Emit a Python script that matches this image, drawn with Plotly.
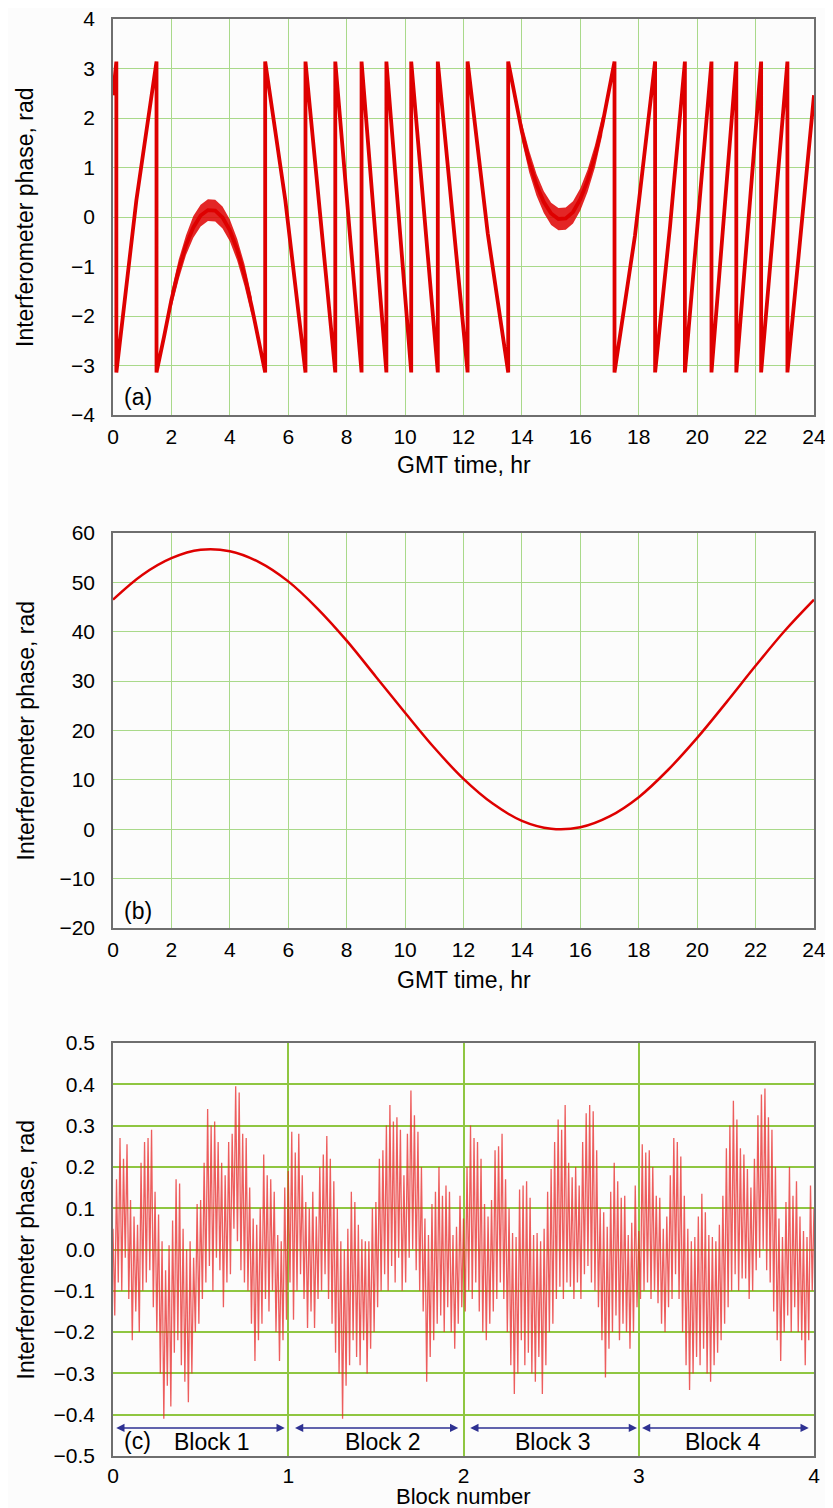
import numpy as np
import plotly.graph_objects as go

# ---------------- data ----------------
# Panel (a): wrapped interferometer phase, vertices
a_time = [0, 0.115, 0.115, 0.80, 1.49, 1.49, 1.75, 2.0, 2.25, 2.5, 2.75, 3.0, 3.25, 3.5, 3.75,
          4.0, 4.25, 4.5, 4.75, 5.0, 5.21, 5.21, 5.9, 6.59, 6.59, 7.61, 7.61, 8.51, 8.51, 9.36,
          9.36, 10.21, 10.21, 11.12, 11.12, 12.14, 12.14, 12.83, 13.53, 13.53, 13.75, 14.0, 14.25,
          14.5, 14.75, 15.0, 15.25, 15.5, 15.75, 16.0, 16.25, 16.5, 16.75, 17.0, 17.17, 17.17,
          17.87, 18.56, 18.56, 19.07, 19.58, 19.58, 20.49, 20.49, 21.34, 21.34, 22.19, 22.19,
          23.09, 23.09, 24.0]
a_phase = [2.46, 3.14, -3.14, 0.34, 3.14, -3.14, -2.41, -1.67, -1.06, -0.57, -0.21, 0.03, 0.14,
           0.13, -0.01, -0.27, -0.66, -1.17, -1.81, -2.57, -3.14, 3.14, 0.34, -3.14, 3.14, -3.14,
           3.14, -3.14, 3.14, -3.14, 3.14, -3.14, 3.14, -3.14, 3.14, -3.14, 3.14, -0.33, -3.14,
           3.14, 2.43, 1.72, 1.12, 0.65, 0.30, 0.07, -0.04, -0.03, 0.10, 0.36, 0.74, 1.23, 1.85,
           2.59, 3.14, -3.14, -0.38, 3.14, -3.14, -0.20, 3.14, -3.14, 3.14, -3.14, 3.14, -3.14,
           3.14, -3.14, 3.14, -3.14, 2.46]
# noise band edges near the two turning points of panel (a)
band1_time = [2.0, 2.25, 2.5, 2.75, 3.0, 3.25, 3.5, 3.75, 4.0, 4.25, 4.5, 4.75]
band1_top = [-1.50, -0.86, -0.37, 0.02, 0.25, 0.36, 0.35, 0.21, -0.05, -0.44, -0.95, -1.62]
band1_bot = [-1.84, -1.26, -0.77, -0.42, -0.19, -0.08, -0.09, -0.23, -0.49, -0.88, -1.39, -2.00]
band2_time = [14.0, 14.25, 14.5, 14.75, 15.0, 15.25, 15.5, 15.75, 16.0, 16.25, 16.5, 16.75]
band2_top = [1.90, 1.34, 0.87, 0.52, 0.29, 0.18, 0.19, 0.32, 0.58, 0.96, 1.45, 2.05]
band2_bot = [1.54, 0.90, 0.43, 0.08, -0.16, -0.27, -0.26, -0.13, 0.13, 0.51, 1.00, 1.65]

# Panel (b): unwrapped phase, hourly readings
b_time = list(range(0, 25))
b_phase = [46.5, 51.5, 54.9, 56.6, 56.3, 54.1, 50.2, 44.7, 38.2, 30.9, 23.6, 16.5, 10.2, 5.2,
           1.7, 0.1, 0.4, 2.6, 6.5, 12.0, 18.5, 25.7, 33.1, 40.2, 46.5]

# Panel (c): residual phase samples, 100 per block
block1 = [0.05, -0.16, 0.17, -0.08, 0.27, -0.10, 0.22, -0.02, 0.255, -0.12,
          0.12, -0.22, 0.08, -0.15, 0.06, -0.20, 0.21, -0.10, 0.26, -0.08,
          0.27, -0.05, 0.29, -0.14, 0.14, -0.20, 0.085, -0.30, 0.02, -0.41,
          -0.05, -0.33, 0.01, -0.38, 0.07, -0.25, 0.17, -0.22, 0.16, -0.28,
          0.05, -0.32, 0.00, -0.37, 0.02, -0.30, -0.02, -0.20, 0.11, -0.18,
          0.12, -0.12, 0.21, -0.08, 0.34, -0.04, 0.30, -0.10, 0.31, -0.02,
          0.26, -0.05, 0.21, -0.14, 0.18, -0.08, 0.26, -0.06, 0.28, 0.05,
          0.395, 0.02, 0.38, -0.05, 0.28, -0.08, 0.27, -0.10, 0.15, -0.18,
          0.075, -0.27, 0.06, -0.22, 0.10, -0.18, 0.23, -0.12, 0.18, -0.15,
          0.17, -0.10, 0.14, -0.20, 0.035, -0.27, 0.02, -0.22, 0.15, -0.17]
block2 = [0.19, -0.08, 0.285, -0.17, 0.235, -0.10, 0.28, -0.06, 0.18, -0.12,
          0.115, -0.19, 0.10, -0.15, 0.14, -0.19, 0.08, -0.12, 0.20, -0.10,
          0.23, -0.06, 0.275, -0.12, 0.22, -0.18, 0.165, -0.25, 0.10, -0.30,
          0.02, -0.41, 0.00, -0.33, 0.05, -0.28, 0.14, -0.22, 0.115, -0.26,
          0.06, -0.28, 0.025, -0.22, 0.02, -0.30, 0.02, -0.24, 0.10, -0.20,
          0.115, -0.14, 0.22, -0.10, 0.24, -0.06, 0.30, -0.10, 0.35, -0.04,
          0.31, -0.08, 0.32, -0.02, 0.29, -0.10, 0.18, -0.08, 0.28, -0.02,
          0.385, 0.00, 0.325, -0.05, 0.285, -0.10, 0.20, -0.15, 0.075, -0.32,
          0.035, -0.26, 0.11, -0.22, 0.14, -0.18, 0.20, -0.16, 0.13, -0.20,
          0.155, -0.14, 0.14, -0.20, 0.035, -0.24, 0.055, -0.18, 0.13, -0.14]
block3 = [0.075, -0.15, 0.20, -0.10, 0.30, -0.12, 0.27, -0.08, 0.26, -0.15,
          0.22, -0.20, 0.11, -0.22, 0.08, -0.18, 0.12, -0.15, 0.24, -0.12,
          0.25, -0.08, 0.28, -0.12, 0.17, -0.20, 0.10, -0.28, 0.04, -0.35,
          0.03, -0.30, 0.145, -0.22, 0.155, -0.28, 0.165, -0.25, 0.125, -0.30,
          0.035, -0.32, 0.04, -0.26, 0.02, -0.35, 0.05, -0.28, 0.14, -0.20,
          0.195, -0.18, 0.26, -0.12, 0.315, -0.09, 0.29, -0.12, 0.35, -0.08,
          0.21, -0.09, 0.175, -0.12, 0.20, -0.08, 0.155, -0.12, 0.26, -0.06,
          0.33, -0.04, 0.35, -0.08, 0.335, -0.10, 0.24, -0.14, 0.10, -0.22,
          0.09, -0.31, 0.055, -0.24, 0.14, -0.20, 0.21, -0.16, 0.165, -0.22,
          0.125, -0.18, 0.13, -0.20, 0.035, -0.24, 0.065, -0.20, 0.155, -0.14]
block4 = [0.045, -0.12, 0.255, -0.10, 0.235, -0.08, 0.24, -0.12, 0.20, -0.10,
          0.13, -0.13, 0.125, -0.18, 0.05, -0.20, 0.08, -0.14, 0.18, -0.12,
          0.27, -0.06, 0.26, -0.12, 0.225, -0.20, 0.13, -0.28, 0.05, -0.34,
          0.02, -0.30, 0.03, -0.26, 0.08, -0.28, 0.135, -0.24, 0.09, -0.30,
          0.035, -0.32, 0.03, -0.28, 0.02, -0.25, 0.06, -0.22, 0.13, -0.18,
          0.245, -0.14, 0.30, -0.10, 0.36, -0.06, 0.315, -0.10, 0.245, -0.07,
          0.23, -0.07, 0.195, -0.12, 0.15, -0.10, 0.22, -0.05, 0.325, -0.02,
          0.375, 0.00, 0.39, -0.05, 0.32, -0.08, 0.29, -0.15, 0.20, -0.22,
          0.075, -0.27, 0.03, -0.20, 0.115, -0.16, 0.20, -0.20, 0.13, -0.14,
          0.165, -0.20, 0.08, -0.22, 0.045, -0.28, 0.03, -0.22, 0.155, -0.10]
c_last = [0.10]
c_phase = block1 + block2 + block3 + block4 + c_last
c_block = np.linspace(0, 4, len(c_phase))

block_labels = ["Block 1", "Block 2", "Block 3", "Block 4"]
block_label_x = [0.56, 1.54, 2.51, 3.48]
block_arrow_start = [0.01, 1.03, 2.03, 3.01]
block_arrow_end = [0.98, 1.97, 2.99, 3.97]

# ---------------- figure ----------------
FONT = "Liberation Sans, Arial, sans-serif"
RED = "rgb(222,0,0)"
GRID = "#a9d98a"
GRIDC = "#8fc641"
FRAME = "#6e6e6e"

OFF = 8            # page body margin of the html page
W, H = 833 - OFF, 1508 - OFF

fig = go.Figure()

# panel (a)
for bt, top, bot in [(band1_time, band1_top, band1_bot), (band2_time, band2_top, band2_bot)]:
    fig.add_trace(go.Scatter(x=bt, y=top, mode="lines", line=dict(width=0, color=RED),
                             xaxis="x", yaxis="y", showlegend=False, hoverinfo="skip"))
    fig.add_trace(go.Scatter(x=bt, y=bot, mode="lines", line=dict(width=0, color=RED),
                             fill="tonexty", fillcolor="rgba(222,0,0,0.85)",
                             xaxis="x", yaxis="y", showlegend=False, hoverinfo="skip"))
fig.add_trace(go.Scatter(x=a_time, y=a_phase, mode="lines", line=dict(width=3.8, color=RED),
                         xaxis="x", yaxis="y", showlegend=False))

# panel (b)
fig.add_trace(go.Scatter(x=b_time, y=b_phase, mode="lines",
                         line=dict(width=2.5, color=RED, shape="spline"),
                         xaxis="x2", yaxis="y2", showlegend=False))

# panel (c)
fig.add_trace(go.Scatter(x=c_block, y=c_phase, mode="lines",
                         line=dict(width=1.3, color="rgba(232,40,40,0.75)"),
                         xaxis="x3", yaxis="y3", showlegend=False))

# plot-area edges in page pixels
P_LEFT, P_RIGHT = 113, 814
P_TOP, P_BOT = 19, 1456
H_TOP = P_TOP - OFF
H_BOT = P_BOT - OFF
PH = H_BOT - H_TOP
PW = P_RIGHT - P_LEFT


def ydom(top_px, bot_px):
    return [(P_BOT - bot_px) / PH, (P_BOT - top_px) / PH]


def ypaper(px):
    return (P_BOT - px) / PH


def xpaper(px):
    return (px - P_LEFT) / PW


tickfont = dict(family=FONT, size=21, color="black")
common_x = dict(showline=True, mirror=True, linecolor=FRAME, linewidth=1.5, ticks="",
                tickfont=tickfont, zeroline=False, automargin=False,
                ticklabeloverflow="allow")
common_y = dict(showline=True, mirror=True, linecolor=FRAME, linewidth=1.5, ticks="",
                tickfont=tickfont, ticklabelstandoff=12, zeroline=False, automargin=False,
                ticklabeloverflow="allow")

fig.update_layout(
    width=W, height=H,
    margin=dict(l=P_LEFT - OFF, r=W - (P_RIGHT - OFF), t=H_TOP, b=H - H_BOT),
    paper_bgcolor="#fcfcfc", plot_bgcolor="#fcfcfc",
    font=dict(family=FONT, color="black"),
    xaxis=dict(domain=[0, 1], range=[0, 24], dtick=2, tick0=0, anchor="y",
               ticklabelstandoff=2,
               showgrid=True, gridcolor=GRID, gridwidth=1.4, **common_x),
    yaxis=dict(domain=ydom(19, 415), range=[-4, 4], dtick=1, anchor="x",
               showgrid=True, gridcolor=GRID, gridwidth=1.4, **common_y),
    xaxis2=dict(domain=[0, 1], range=[0, 24], dtick=2, tick0=0, anchor="y2",
                ticklabelstandoff=2,
                showgrid=True, gridcolor=GRID, gridwidth=1.4, **common_x),
    yaxis2=dict(domain=ydom(533, 928), range=[-20, 60], dtick=10, anchor="x2",
                showgrid=True, gridcolor=GRID, gridwidth=1.4, **common_y),
    xaxis3=dict(domain=[0, 1], range=[0, 4], dtick=1, tick0=0, anchor="y3",
                ticklabelstandoff=0,
                showgrid=True, gridcolor=GRIDC, gridwidth=2, **common_x),
    yaxis3=dict(domain=ydom(1043, 1456), range=[-0.5, 0.5], dtick=0.1, tickformat=".1f",
                anchor="x3", showgrid=True, gridcolor=GRIDC, gridwidth=1.5, **common_y),
)

ann = []
title_font = dict(family=FONT, size=23, color="black")
# y axis titles
for top, bot in [(19, 415), (533, 928), (1043, 1456)]:
    ann.append(dict(text="Interferometer phase, rad", xref="paper", yref="paper",
                    x=xpaper(25), y=ypaper((top + bot) / 2), textangle=-90,
                    showarrow=False, font=title_font, xanchor="center", yanchor="middle"))
# x axis titles
ann.append(dict(text="GMT time, hr", xref="paper", yref="paper", x=0.5, y=ypaper(465),
                showarrow=False, font=title_font, xanchor="center", yanchor="middle"))
ann.append(dict(text="GMT time, hr", xref="paper", yref="paper", x=0.5, y=ypaper(980),
                showarrow=False, font=title_font, xanchor="center", yanchor="middle"))
ann.append(dict(text="Block number", xref="paper", yref="paper", x=0.5, y=ypaper(1496),
                showarrow=False, font=dict(family=FONT, size=22, color="black"),
                xanchor="center", yanchor="middle"))
# panel labels
label_font = dict(family=FONT, size=23, color="black")
ann.append(dict(text="(a)", xref="x", yref="y", x=0.3, y=-3.64, showarrow=False,
                font=label_font, xanchor="left", yanchor="middle"))
ann.append(dict(text="(b)", xref="x2", yref="y2", x=0.3, y=-16.6, showarrow=False,
                font=label_font, xanchor="left", yanchor="middle"))
ann.append(dict(text="(c)", xref="x3", yref="y3", x=0.05, y=-0.464, showarrow=False,
                font=label_font, xanchor="left", yanchor="middle"))
# block arrows and labels
for lab, lx, s, e in zip(block_labels, block_label_x, block_arrow_start, block_arrow_end):
    ann.append(dict(text="", xref="x3", yref="y3", x=e, y=-0.432, ax=s, ay=-0.432,
                    axref="x3", ayref="y3", showarrow=True, arrowside="end+start",
                    arrowhead=2, arrowsize=1.1, arrowwidth=1.5, arrowcolor="#2e3192"))
    ann.append(dict(text=lab, xref="x3", yref="y3", x=lx, y=-0.466, showarrow=False,
                    font=label_font, xanchor="center", yanchor="middle"))

fig.update_layout(annotations=ann)

fig.write_html("out.html")
